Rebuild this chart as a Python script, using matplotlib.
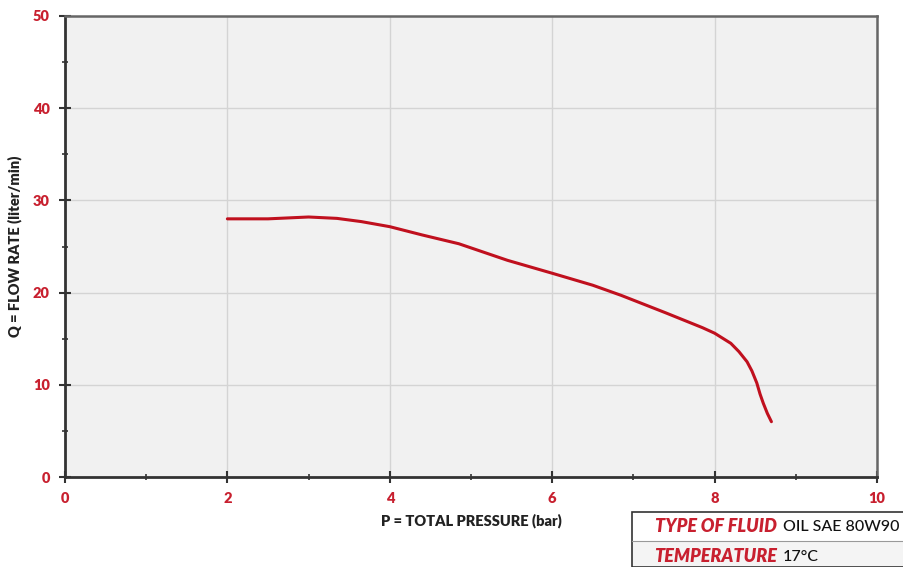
import matplotlib
matplotlib.use("Agg")
import matplotlib.pyplot as plt
from matplotlib.ticker import MultipleLocator
from matplotlib.patches import Rectangle

pressure = [2.0, 2.5, 3.0, 3.35, 3.65, 4.0, 4.4, 4.85, 5.45, 6.0, 6.5, 6.85, 7.4, 7.85,
            8.0, 8.2, 8.3, 8.4, 8.46, 8.52, 8.56, 8.6, 8.65, 8.7]
flow = [28.0, 28.0, 28.2, 28.05, 27.7, 27.15, 26.25, 25.3, 23.5, 22.1, 20.8, 19.7, 17.8, 16.2,
        15.6, 14.5, 13.6, 12.5, 11.5, 10.2, 9.0, 8.0, 6.9, 6.0]
x_ticks = [0, 2, 4, 6, 8, 10]
y_ticks = [0, 10, 20, 30, 40, 50]
table_labels = ["TYPE OF FLUID", "TEMPERATURE"]
table_values = ["OIL SAE 80W90", "17°C"]

RED = "#c8202f"
plt.rcParams['font.family'] = ['Lato', 'DejaVu Sans']

fig = plt.figure(figsize=(9.04, 5.67), dpi=100)
ax = fig.add_axes([0.0719, 0.1587, 0.8982, 0.8131])
ax.set_facecolor("#f1f1f1")
ax.plot(pressure, flow, color="#c0101e", lw=2.2, solid_capstyle="round", solid_joinstyle="round")

ax.set_xlim(0, 10)
ax.set_ylim(0, 50)
ax.set_xticks(x_ticks)
ax.set_yticks(y_ticks)
ax.xaxis.set_minor_locator(MultipleLocator(1))
ax.yaxis.set_minor_locator(MultipleLocator(5))
ax.grid(True, which="major", color="#d4d4d4", lw=1.0)
ax.set_axisbelow(True)
for lab in ax.get_xticklabels() + ax.get_yticklabels():
    lab.set_color(RED)
    lab.set_fontweight("heavy")
    lab.set_fontsize(10.5)
ax.tick_params(which="major", direction="inout", length=8, width=1.5, color="#333333", pad=7)
ax.tick_params(which="minor", direction="inout", length=5, width=1.2, color="#333333")
for s in ["left", "bottom"]:
    ax.spines[s].set_color("#333333")
    ax.spines[s].set_linewidth(2)
for s in ["top", "right"]:
    ax.spines[s].set_color("#666666")
    ax.spines[s].set_linewidth(1.8)

ax.set_xlabel("P = TOTAL PRESSURE (bar)", fontsize=10.5, fontweight="heavy", color="#222222", labelpad=6)
ax.set_ylabel("Q = FLOW RATE (liter/min)", fontsize=10.5, fontweight="heavy", color="#222222", labelpad=8)

# info table at bottom right
x0, y0, w, h = 632 / 904, 0, 0.31, 55 / 567
fig.patches.append(Rectangle((x0, y0), w, 26 / 567, transform=fig.transFigure,
                             facecolor="#f4f4f4", edgecolor="none", zorder=0))
fig.patches.append(Rectangle((x0, y0), w, h, transform=fig.transFigure,
                             facecolor="none", edgecolor="#333333", lw=1.2))
fig.lines.append(plt.Line2D([x0, 1], [26 / 567, 26 / 567], transform=fig.transFigure,
                            color="#999999", lw=0.8))
rows_y = [1 - 527 / 567, 1 - 557 / 567]
for lbl, val, yy in zip(table_labels, table_values, rows_y):
    fig.text(777 / 904, yy, lbl, ha="right", va="center", color=RED,
             fontsize=13, fontweight="heavy", fontstyle="italic")
    fig.text(783 / 904, yy, val, ha="left", va="center", color="#111111", fontsize=11.5,
             fontweight="medium")

fig.savefig("out.png", dpi=100)
